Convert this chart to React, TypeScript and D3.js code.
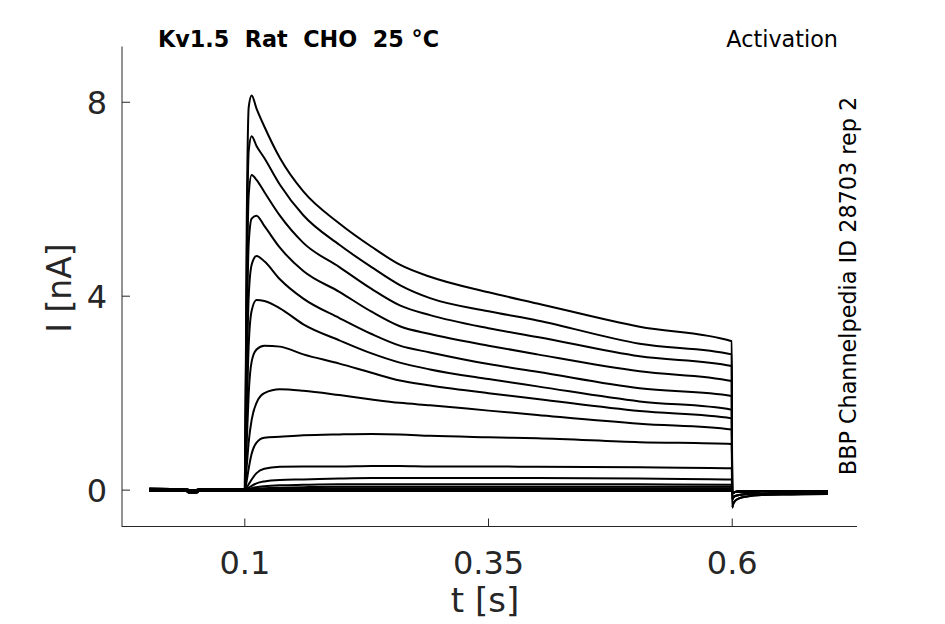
import React from 'react';
import * as d3 from 'd3';

// time points (s) used inside the voltage step
const pulseT = [0.1, 0.102, 0.104, 0.107, 0.112, 0.12, 0.136, 0.16, 0.197, 0.23, 0.259, 0.29, 0.35, 0.4, 0.505, 0.5995];

// currents (nA) of each sweep at pulseT, biggest first
const sweep1 = [0, 5.6, 7.9, 8.14, 7.87, 7.5, 6.85, 6.16, 5.5, 5.02, 4.65, 4.4, 4.08, 3.85, 3.37, 3.07];
const sweep2 = [0, 4.8, 7.0, 7.3, 7.1, 6.85, 6.3, 5.67, 5.06, 4.6, 4.23, 3.96, 3.69, 3.5, 3.02, 2.8];
const sweep3 = [0, 4.0, 6.1, 6.5, 6.4, 6.15, 5.66, 5.1, 4.6, 4.15, 3.81, 3.61, 3.34, 3.16, 2.76, 2.56];
const sweep4 = [0, 3.2, 5.1, 5.6, 5.66, 5.45, 5.0, 4.52, 4.09, 3.68, 3.38, 3.22, 2.98, 2.8, 2.45, 2.25];
const sweep5 = [0, 2.4, 4.0, 4.65, 4.83, 4.72, 4.35, 3.95, 3.55, 3.22, 2.98, 2.84, 2.6, 2.44, 2.1, 1.94];
const sweep6 = [0, 1.6, 3.0, 3.7, 3.92, 3.9, 3.75, 3.42, 3.09, 2.82, 2.63, 2.49, 2.29, 2.14, 1.83, 1.66];
const sweep7 = [0, 1.0, 2.0, 2.65, 2.9, 2.98, 2.96, 2.8, 2.61, 2.42, 2.26, 2.16, 2.0, 1.88, 1.63, 1.48];
const sweep8 = [0, 0.5, 1.0, 1.45, 1.8, 2.0, 2.08, 2.05, 1.96, 1.87, 1.8, 1.75, 1.64, 1.55, 1.37, 1.25];
const sweep9 = [0, 0.2, 0.45, 0.75, 0.98, 1.08, 1.1, 1.13, 1.15, 1.16, 1.15, 1.12, 1.09, 1.07, 0.99, 0.95];
const sweep10 = [0, 0.05, 0.12, 0.22, 0.35, 0.44, 0.48, 0.49, 0.49, 0.5, 0.5, 0.49, 0.49, 0.48, 0.47, 0.45];
const sweep11 = [0, 0.02, 0.05, 0.09, 0.14, 0.18, 0.21, 0.22, 0.24, 0.25, 0.25, 0.25, 0.25, 0.25, 0.24, 0.22];
const sweep12 = [0, 0.01, 0.02, 0.04, 0.06, 0.08, 0.1, 0.11, 0.12, 0.12, 0.12, 0.12, 0.12, 0.12, 0.12, 0.11];
const sweep13 = [0, 0, 0.01, 0.02, 0.03, 0.04, 0.05, 0.06, 0.07, 0.07, 0.07, 0.07, 0.07, 0.07, 0.07, 0.07];
const sweep14 = [0, 0, 0, 0.01, 0.01, 0.02, 0.03, 0.03, 0.04, 0.04, 0.04, 0.04, 0.04, 0.04, 0.04, 0.04];
const sweep15 = [0, 0, 0, 0, 0, 0.01, 0.01, 0.01, 0.02, 0.02, 0.02, 0.02, 0.02, 0.02, 0.01, 0.01];
const sweep16 = [-0.02, -0.02, -0.02, -0.02, -0.02, -0.02, -0.02, -0.02, -0.02, -0.02, -0.02, -0.02, -0.02, -0.02, -0.02, -0.02];

// holding level before the step
const baseT = [0.002, 0.04, 0.043, 0.05, 0.053, 0.0995];
const baseA = [0.01, 0.01, -0.03, -0.03, 0.01, 0.01];
const baseB = [-0.02, -0.02, -0.05, -0.05, -0.02, -0.02];
const baseC = [0.03, 0.02, 0, 0, 0.02, 0.02];

// tail currents after the step
const tailT = [0.6, 0.6008, 0.603, 0.607, 0.615, 0.63, 0.66, 0.698];
const tailBig = [-0.36, -0.3, -0.22, -0.17, -0.13, -0.1, -0.09, -0.08];
const tailMid = [-0.2, -0.16, -0.12, -0.1, -0.08, -0.07, -0.06, -0.06];
const tailSmall = [-0.06, -0.05, -0.04, -0.03, -0.03, -0.02, -0.02, -0.02];

const sweeps = [sweep1, sweep2, sweep3, sweep4, sweep5, sweep6, sweep7, sweep8,
  sweep9, sweep10, sweep11, sweep12, sweep13, sweep14, sweep15, sweep16];
const bases = [baseA, baseB, baseC];
const tails = [tailBig, tailBig, tailMid, tailMid, tailMid, tailSmall, tailSmall, tailSmall,
  tailSmall, tailSmall, tailSmall, tailSmall, tailSmall, tailSmall, tailSmall, tailSmall];

const xTicks = [0.1, 0.35, 0.6];
const yTicks = [0, 4, 8];

const title = 'Kv1.5  Rat  CHO  25 °C';
const protocol = 'Activation';
const sideNote = 'BBP Channelpedia ID 28703 rep 2';

const W = 945;
const H = 624;
const font = 'DejaVu Sans, sans-serif';
const axisColor = '#262626';

const App: React.FC = () => {
  const x = d3.scaleLinear().domain([-0.026, 0.728]).range([122, 857]);
  const y = d3.scaleLinear().domain([-0.75, 9.15]).range([526.5, 46.5]);

  const line = d3.line<[number, number]>()
    .x(d => x(d[0]))
    .y(d => y(d[1]))
    .curve(d3.curveMonotoneX);

  const paths = sweeps.map((vals, i) => {
    const base = bases[i % 3];
    const pts: [number, number][] = [
      ...baseT.map((t, j) => [t, base[j]] as [number, number]),
      ...pulseT.map((t, j) => [t, vals[j]] as [number, number]),
      ...tailT.map((t, j) => [t, tails[i][j]] as [number, number]),
    ];
    return line(pts) || '';
  });

  const [x0, x1] = x.range();
  const [yb, yt] = y.range();

  return (
    <svg width={W} height={H} style={{ position: 'absolute', left: 0, top: 0, background: '#fff' }}>
      <rect width={W} height={H} fill="#fff" />
      <g fill="none" stroke="#000" strokeWidth={2} strokeLinejoin="round">
        {paths.map((d, i) => <path key={i} d={d} />)}
      </g>

      {/* axes */}
      <g stroke={axisColor} strokeWidth={1}>
        <line x1={x0} x2={x0} y1={yt} y2={yb + 0.5} />
        <line x1={x0} x2={x1} y1={yb} y2={yb} />
        {yTicks.map(t => <line key={t} x1={x0} x2={x0 + 8} y1={y(t)} y2={y(t)} />)}
        {xTicks.map(t => <line key={t} x1={x(t)} x2={x(t)} y1={yb} y2={yb - 8} />)}
      </g>
      <g fill={axisColor} fontFamily={font} fontSize={32}>
        {yTicks.map(t => (
          <text key={t} x={x0 - 15} y={y(t) + 11.5} textAnchor="end">{t}</text>
        ))}
        {xTicks.map(t => (
          <text key={t} x={x(t)} y={574} textAnchor="middle">{String(t)}</text>
        ))}
      </g>
      <text x={485} y={612} textAnchor="middle" fontFamily={font} fontSize={34} fill={axisColor}>t [s]</text>
      <text transform="translate(71,288) rotate(-90)" textAnchor="middle" fontFamily={font} fontSize={33} fill={axisColor}>I [nA]</text>

      <text x={158} y={47} fontFamily={font} fontSize={22.3} fontWeight="bold" fill="#000" style={{ whiteSpace: 'pre' }}>{title}</text>
      <text x={838} y={47} textAnchor="end" fontFamily={font} fontSize={22.3} fill="#000">{protocol}</text>
      <text transform="translate(856,286) rotate(-90)" textAnchor="middle" fontFamily={font} fontSize={22.3} fill="#000">{sideNote}</text>
    </svg>
  );
};

export default App;
